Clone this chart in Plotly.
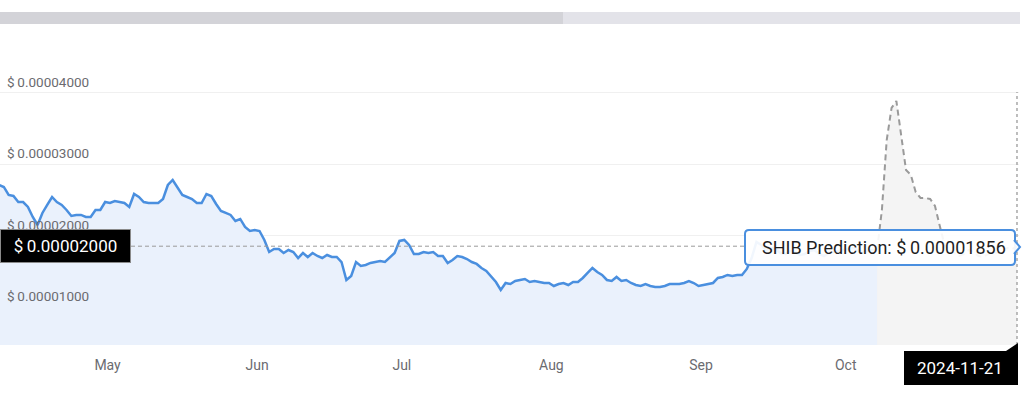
import pandas as pd
import plotly.graph_objects as go

# ---------------- data (prices in units of 1e-5 USD) ----------------
history_start = "2024-04-24"
history_end = "2024-10-23"
history_e5 = [
    2.711, 2.683, 2.571, 2.557, 2.473, 2.473, 2.404, 2.264, 2.152, 2.320,
    2.432, 2.543, 2.473, 2.432, 2.362, 2.278, 2.292, 2.292, 2.264, 2.264,
    2.362, 2.362, 2.473, 2.459, 2.487, 2.473, 2.459, 2.404, 2.585, 2.543,
    2.473, 2.459, 2.459, 2.459, 2.515, 2.711, 2.781, 2.669, 2.571, 2.543,
    2.515, 2.459, 2.459, 2.585, 2.557, 2.446, 2.348, 2.320, 2.292, 2.208,
    2.236, 2.124, 2.068, 2.082, 2.068, 1.943, 1.775, 1.817, 1.817, 1.761,
    1.803, 1.775, 1.691, 1.761, 1.705, 1.761, 1.719, 1.691, 1.733, 1.705,
    1.705, 1.635, 1.384, 1.440, 1.635, 1.580, 1.594, 1.622, 1.635, 1.649,
    1.635, 1.705, 1.761, 1.929, 1.943, 1.873, 1.747, 1.747, 1.775, 1.761,
    1.775, 1.719, 1.719, 1.622, 1.663, 1.719, 1.705, 1.677, 1.635, 1.608,
    1.552, 1.510, 1.440, 1.356, 1.244, 1.342, 1.328, 1.370, 1.384, 1.398,
    1.356, 1.370, 1.356, 1.342, 1.342, 1.300, 1.328, 1.342, 1.314, 1.356,
    1.356, 1.412, 1.482, 1.552, 1.496, 1.454, 1.384, 1.370, 1.426, 1.370,
    1.384, 1.342, 1.314, 1.300, 1.328, 1.300, 1.286, 1.286, 1.300, 1.328,
    1.328, 1.328, 1.342, 1.370, 1.342, 1.300, 1.314, 1.328, 1.342, 1.412,
    1.426, 1.454, 1.440, 1.454, 1.454, 1.538, 1.691, 1.915, 1.873, 1.803,
    1.831, 1.817, 1.761, 1.747, 1.789, 1.775, 1.733, 1.747, 1.789, 1.803,
    1.747, 1.719, 1.761, 1.775, 1.789, 1.803, 1.817, 1.831, 1.803, 1.775,
    1.789, 1.803, 1.803,
]

prediction_start = "2024-10-23"
prediction_end = "2024-11-21"
prediction_e5 = [
    1.803, 2.362, 3.339, 3.786, 3.884, 3.381, 2.920, 2.851, 2.613, 2.529,
    2.529, 2.515, 2.418, 2.138, 1.873, 1.803, 1.761, 1.719, 1.747, 1.803,
    1.775, 1.719, 1.705, 1.747, 1.775, 1.761, 1.803, 1.831, 1.817, 1.856,
]

month_ticks = ["2024-05-16 12:00", "2024-06-16 12:00", "2024-07-16 12:00",
               "2024-08-16 12:00", "2024-09-16 12:00", "2024-10-16 12:00"]
month_labels = ["May", "Jun", "Jul", "Aug", "Sep", "Oct"]

grid_values = [0.00001, 0.00002, 0.00003, 0.00004]
grid_labels = ["$\u20090.00001000", "$\u20090.00002000", "$\u20090.00003000", "$\u20090.00004000"]

crosshair_value = 0.00001856
crosshair_date = "2024-11-21"
crosshair_label = "$\u20090.00002000"
tooltip_text = "SHIB Prediction: $\u20090.00001856"

SCALE = 1e-5
history_dates = pd.date_range(history_start, history_end, freq="D")
prediction_dates = pd.date_range(prediction_start, prediction_end, freq="D")
history = [v * SCALE for v in history_e5]
prediction = [v * SCALE for v in prediction_e5]

# ---------------- geometry helpers (pixels -> paper) ----------------
W, H = 1022, 393
ML, MR, MT, MB = 0, 3, 78, 48
PW = W - ML - MR
PH = H - MT - MB


def X(px):
    return (px - ML) / PW


def Y(py):
    return (H - MB - py) / PH


def rounded_rect(x0, y0, x1, y1, r):
    pts = []
    pts.append(f"M {X(x0 + r)},{Y(y0)}")
    pts.append(f"L {X(x1 - r)},{Y(y0)}")
    pts.append(f"Q {X(x1)},{Y(y0)} {X(x1)},{Y(y0 + r)}")
    pts.append(f"L {X(x1)},{Y(y1 - r)}")
    pts.append(f"Q {X(x1)},{Y(y1)} {X(x1 - r)},{Y(y1)}")
    pts.append(f"L {X(x0 + r)},{Y(y1)}")
    pts.append(f"Q {X(x0)},{Y(y1)} {X(x0)},{Y(y1 - r)}")
    pts.append(f"L {X(x0)},{Y(y0 + r)}")
    pts.append(f"Q {X(x0)},{Y(y0)} {X(x0 + r)},{Y(y0)}")
    pts.append("Z")
    return " ".join(pts)


FONT = "Roboto, 'Open Sans', Arial, sans-serif"

fig = go.Figure()

fig.add_trace(go.Scatter(
    x=prediction_dates, y=prediction, mode="lines",
    line=dict(color="#9a9a9a", width=2, dash="6px,4px"),
    fill="tozeroy", fillcolor="#f4f4f4", hoverinfo="skip",
))
fig.add_trace(go.Scatter(
    x=history_dates, y=history, mode="lines",
    line=dict(color="#4a8fdf", width=2.5),
    fill="tozeroy", fillcolor="#eaf1fc", hoverinfo="skip",
))

shapes = []
# top progress bar
shapes.append(dict(type="rect", xref="paper", yref="paper",
                   x0=X(0), x1=X(563), y0=Y(24), y1=Y(12),
                   fillcolor="#d3d3d8", line=dict(width=0), layer="above"))
shapes.append(dict(type="rect", xref="paper", yref="paper",
                   x0=X(563), x1=X(1020), y0=Y(24), y1=Y(12),
                   fillcolor="#e3e3e9", line=dict(width=0), layer="above"))
# crosshair horizontal
shapes.append(dict(type="line", xref="paper", yref="y",
                   x0=X(131), x1=X(745), y0=crosshair_value, y1=crosshair_value,
                   line=dict(color="#9a9a9a", width=1, dash="4px,3px"), layer="above"))
# crosshair vertical
shapes.append(dict(type="line", xref="x", yref="paper",
                   x0=crosshair_date, x1=crosshair_date, y0=Y(345), y1=Y(92),
                   line=dict(color="#a8a8a8", width=1.5, dash="3px,3px"), layer="above"))
# tooltip box
shapes.append(dict(type="path", xref="paper", yref="paper",
                   path=rounded_rect(745, 230, 1015, 265, 4),
                   fillcolor="rgba(255,255,255,0.92)",
                   line=dict(color="#4a8fdf", width=2), layer="above"))
shapes.append(dict(type="path", xref="paper", yref="paper",
                   path=f"M {X(1014)},{Y(240)} L {X(1020)},{Y(247)} L {X(1014)},{Y(254)}",
                   fillcolor="rgba(255,255,255,0.92)",
                   line=dict(color="#4a8fdf", width=2), layer="above"))
# date label box
shapes.append(dict(type="path", xref="paper", yref="paper",
                   path=(f"M {X(904)},{Y(351)} L {X(1006)},{Y(351)} L {X(1018)},{Y(343)} "
                         f"L {X(1018)},{Y(385)} L {X(904)},{Y(385)} Z"),
                   fillcolor="#000000", line=dict(width=0), layer="above"))

annotations = []
for v, lab in zip(grid_values, grid_labels):
    annotations.append(dict(
        xref="paper", yref="y", x=0, y=v, xanchor="left", yanchor="bottom",
        xshift=5, yshift=1, text=lab, showarrow=False,
        font=dict(family=FONT, size=13.5, color="#6b6b70"),
    ))
# black value label on the left
annotations.append(dict(
    xref="paper", yref="y", x=0, y=crosshair_value, xanchor="left", yanchor="middle",
    text=crosshair_label, showarrow=False, width=129, height=32, align="center",
    bgcolor="#000000", bordercolor="#8a8a8a", borderwidth=1, borderpad=0,
    font=dict(family=FONT, size=17, color="#ffffff"),
))
# tooltip text
annotations.append(dict(
    xref="paper", yref="paper", x=X(884), y=Y(247.5), xanchor="center", yanchor="middle",
    text=tooltip_text, showarrow=False,
    font=dict(family=FONT, size=18, color="#1f1f1f"),
))
# date text
annotations.append(dict(
    xref="paper", yref="paper", x=X(960), y=Y(368), xanchor="center", yanchor="middle",
    text=crosshair_date, showarrow=False,
    font=dict(family=FONT, size=17, color="#ffffff"),
))

fig.update_layout(
    width=W, height=H,
    margin=dict(l=ML, r=MR, t=MT, b=MB),
    paper_bgcolor="#ffffff", plot_bgcolor="#ffffff",
    showlegend=False, hovermode=False,
    shapes=shapes, annotations=annotations,
    xaxis=dict(
        type="date", range=["2024-04-24 05:00", "2024-11-21 10:00"],
        tickmode="array", tickvals=month_ticks, ticktext=month_labels,
        showgrid=False, zeroline=False, showline=False, ticks="",
        ticklabelstandoff=10,
        tickfont=dict(family=FONT, size=14, color="#6b6b70"),
    ),
    yaxis=dict(
        range=[0.476e-5, 4.205e-5], tickmode="array", tickvals=grid_values,
        showticklabels=False, showgrid=True, gridcolor="#f0f0f0", gridwidth=1,
        zeroline=False, showline=False, ticks="",
    ),
)

fig.write_html(
    "out.html",
    config={"displayModeBar": False},
    post_script="document.body.style.margin='0';document.body.style.padding='0';",
)
